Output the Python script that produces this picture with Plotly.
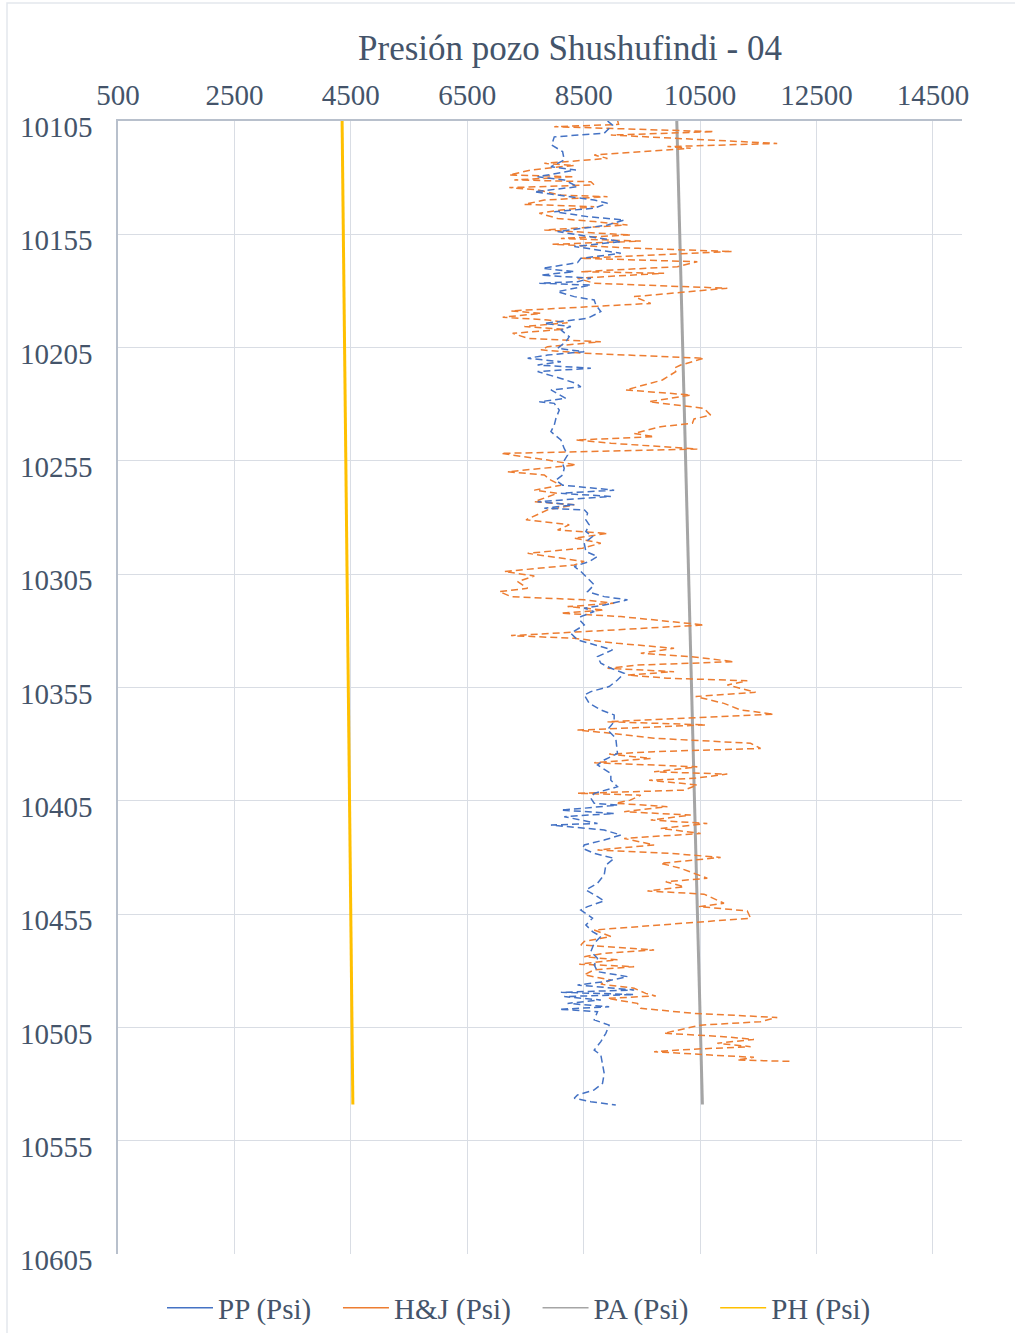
import plotly.graph_objects as go

# ---------------- data ----------------
pp_depth = [10105, 10106.8, 10110.4, 10112, 10115.6, 10118.5, 10122.2, 10125.2, 10126.6, 10129.6,
            10131, 10134, 10136.2, 10137.7, 10139.9, 10141.3, 10143.5, 10145, 10147.2, 10148.7,
            10150.9, 10153.8, 10156, 10158.2, 10160.4, 10163.4, 10165.6, 10167.5, 10170, 10171.5,
            10173, 10174.4, 10175.9, 10176.6, 10177.4, 10180.3, 10182.5, 10184, 10186.2, 10189.1,
            10192.1, 10193.5, 10194.3, 10195.7, 10197.2, 10200.2, 10202.4, 10205.3, 10206.8, 10208.3,
            10209.7, 10211.2, 10212.7, 10214.1, 10215.6, 10218.6, 10220.8, 10222.3, 10223.7, 10227.4,
            10228.9, 10229.6, 10232.6, 10236.2, 10239.2, 10242.1, 10245.8, 10249.5, 10252.4, 10256.1,
            10258.3, 10261.2, 10263.5, 10265.7, 10267.9, 10269.3, 10270.7, 10273, 10274.4, 10275.9,
            10276.6, 10278.1, 10281, 10283.2, 10286.2, 10288.4, 10291.3, 10295, 10297.2, 10299.4,
            10301.6, 10303.8, 10306.8, 10309.7, 10312.7, 10314.9, 10316.3, 10318.6, 10320, 10321.5,
            10323.7, 10325, 10327.4, 10331.1, 10334, 10336.2, 10338.4, 10341.4, 10344.3, 10346.5,
            10348.7, 10351.7, 10354.6, 10356.8, 10358.3, 10362, 10364.9, 10367.1, 10370.1, 10373.7,
            10377.4, 10384.1, 10387, 10389.2, 10392.9, 10395.9, 10398.8, 10401.7, 10403.9, 10406.1,
            10406.9, 10408.4, 10409.1, 10410.6, 10412, 10413.5, 10415, 10415.7, 10416.7, 10417.9,
            10420.1, 10422.3, 10424.5, 10426, 10428.2, 10430.4, 10433.4, 10437.7, 10441.4, 10444.3,
            10447.3, 10449.2, 10451.7, 10453.2, 10456.8, 10459.8, 10462.7, 10464.9, 10467.9, 10471.5,
            10474.5, 10477.4, 10480.4, 10482.6, 10484.8, 10486.3, 10488.5, 10489.5, 10490.5, 10491.4,
            10492.9, 10494.4, 10495.9, 10497, 10498.1, 10501.7, 10504, 10507.6, 10511.3, 10515,
            10517.2, 10520.9, 10525.3, 10529.7, 10532.6, 10534.8, 10536.3, 10537.8, 10539.2]
pp_psi = [8910, 8996, 8853, 7995, 7950, 8138, 8166, 7938, 8367, 7709,
          8166, 8395, 7652, 8109, 8681, 8910, 8681, 7995, 8567, 9196,
          8910, 8052, 8567, 9139, 8338, 9139, 8452, 8395, 7795, 8338,
          7766, 8624, 8395, 7738, 8624, 8052, 8338, 8681, 8710, 8795,
          8567, 8109, 7824, 8281, 8109, 8252, 8195, 8052, 8510, 7881,
          7538, 8109, 7709, 8624, 7709, 8109, 8367, 8452, 7938, 8195,
          7738, 7995, 8081, 8024, 7995, 7938, 8109, 8166, 8224, 8138,
          8166, 8138, 8024, 8138, 9024, 8109, 8967, 7709, 8338, 7824,
          8510, 8567, 8538, 8595, 8538, 8652, 8510, 8538, 8738, 8595,
          8338, 8452, 8567, 8681, 8567, 8853, 9253, 8853, 8510, 8681,
          8452, 8424, 8510, 8281, 8395, 8681, 8996, 8738, 8795, 8967,
          9196, 9081, 8938, 8624, 8510, 8595, 8795, 9024, 9024, 8910,
          9052, 9081, 8853, 8738, 8967, 8967, 9081, 8681, 8624, 8681,
          9081, 8452, 8109, 9024, 8166, 8452, 8738, 7938, 8395, 8853,
          9139, 8853, 8510, 8481, 8681, 9024, 8881, 8853, 8738, 8538,
          8738, 8853, 8567, 8452, 8652, 8538, 8652, 8795, 8681, 8624,
          8738, 8681, 8738, 9253, 8853, 8395, 9367, 8109, 9367, 8166,
          8795, 8224, 8938, 8081, 8738, 8681, 8938, 8881, 8795, 8681,
          8795, 8824, 8853, 8824, 8681, 8395, 8338, 8624, 9052]

hj_depth = [10104.6, 10106.5, 10107.5, 10109.7, 10111.2, 10114.9, 10116.3, 10117, 10120, 10121.5,
            10123.7, 10124.6, 10126.6, 10128.8, 10129.6, 10131, 10131.8, 10133.2, 10134.4, 10135.4,
            10137.7, 10138.4, 10139.9, 10141.8, 10142.8, 10144.3, 10145.7, 10148, 10149.4, 10150.9,
            10153.1, 10155.3, 10156.8, 10158, 10159.4, 10161.2, 10162.6, 10165.6, 10167.1, 10169.3,
            10171.5, 10172.2, 10174.4, 10176.6, 10178.8, 10182.5, 10185.5, 10188.8, 10189.9, 10191.6,
            10192.8, 10194, 10195.7, 10196.9, 10198.7, 10200.9, 10202.4, 10204.6, 10206, 10207.5,
            10209.7, 10212.7, 10214.1, 10215.6, 10219.3, 10223.7, 10225.9, 10228.9, 10231.8, 10234.8,
            10236.5, 10238.4, 10239.9, 10242.9, 10244.3, 10245.8, 10247.2, 10248.7, 10249.8, 10251.7,
            10254.6, 10256.8, 10259.8, 10261.2, 10263.5, 10265.7, 10267.9, 10269.3, 10273, 10274.4,
            10276.6, 10281, 10283.2, 10285.5, 10287, 10289.1, 10291.3, 10293.5, 10295.8, 10299.4,
            10300.9, 10303.8, 10305.8, 10308.3, 10311.2, 10312.7, 10314.9, 10316.3, 10317.8, 10319.3,
            10320.8, 10322.2, 10323.7, 10327.4, 10330.5, 10332.1, 10333.3, 10335.5, 10337.7, 10339.9,
            10341.4, 10343.6, 10345.1, 10346.5, 10348, 10349.5, 10350.9, 10352, 10353.9, 10357.1,
            10359, 10362, 10364.9, 10366.8, 10370.1, 10371.5, 10373.8, 10375.2, 10377.4, 10379.6,
            10381.9, 10383.3, 10384.4, 10386.3, 10388.2, 10390, 10392.2, 10393.2, 10395.1, 10395.9,
            10398, 10400.3, 10401.7, 10402.5, 10404.7, 10406.1, 10407.6, 10409.8, 10411.3, 10413.5,
            10415, 10417.2, 10419.4, 10421.6, 10424.5, 10426.7, 10428.2, 10430, 10432.6, 10434.8,
            10439.2, 10440.7, 10442.9, 10444.8, 10446.2, 10450.2, 10451.7, 10453.6, 10456.8, 10462,
            10464.9, 10467.1, 10468.6, 10470.8, 10472.3, 10473.8, 10475.2, 10477.1, 10478.2, 10479.6,
            10481.8, 10484.1, 10485.9, 10487.7, 10490, 10491.1, 10492.2, 10494.4, 10496.6, 10498.8,
            10500.6, 10502.5, 10504, 10507.6, 10509, 10510.3, 10512, 10513.5, 10514.6, 10515.7,
            10517.2, 10518.2, 10519.4, 10520]
hj_psi = [9081, 9100, 7995, 10739, 8967, 11825, 9939, 10339, 8681, 8910,
          7824, 8338, 7595, 7223, 8338, 7309, 8624, 8681, 7223, 7709,
          8109, 8910, 7824, 7481, 8681, 8109, 7738, 8052, 8681, 9253,
          7824, 9310, 8109, 9482, 7966, 9439, 11054, 8452, 10453, 10110,
          8452, 9882, 8395, 8681, 10968, 9367, 9653, 7252, 7767, 7109,
          7881, 8224, 7481, 8166, 7280, 7538, 8795, 7881, 7767, 8510,
          10568, 10168, 10053, 10082, 9853, 9224, 10339, 9624, 10568, 10682,
          10396, 10368, 9825, 9367, 9710, 8367, 8967, 9882, 10453, 7080,
          7881, 8367, 7195, 7824, 7938, 8109, 7652, 8052, 7652, 8338,
          7881, 7509, 8252, 8052, 8910, 8338, 8795, 8481, 7538, 8510,
          8338, 7138, 7652, 7366, 7538, 7052, 7252, 8510, 9024, 8224,
          8853, 8109, 9139, 10568, 8395, 7252, 8338, 9081, 10053, 9482,
          10339, 11082, 9424, 8910, 10053, 9253, 9939, 11311, 10968, 11454,
          10425, 10911, 11197, 11768, 8910, 10596, 8395, 8967, 9710, 11368,
          11540, 9710, 8938, 9653, 8681, 10453, 9710, 10968, 10396, 9624,
          10453, 10225, 8395, 9482, 9300, 9052, 9939, 9196, 10339, 9653,
          10624, 9825, 10510, 9196, 9710, 8738, 9996, 10854, 9825, 10168,
          10624, 9910, 10225, 9596, 10568, 10911, 10482, 11311, 11368, 8681,
          8967, 8510, 8452, 9710, 8853, 8510, 9081, 8424, 9367, 8681,
          8510, 8967, 8795, 9367, 9567, 9739, 8910, 9424, 9482, 10396,
          11825, 11540, 10510, 9882, 10854, 11425, 10796, 11368, 10396, 9710,
          10682, 11425, 11139, 12054]

pa_depth = [10105, 10539]
pa_psi = [10100, 10540]
ph_depth = [10105, 10539]
ph_psi = [4350, 4535]

series_names = ["PP (Psi)", "H&J (Psi)", "PA (Psi)", "PH (Psi)"]
series_colors = ["#4472C4", "#ED7D31", "#A5A5A5", "#FFC000"]

x_ticks = [500, 2500, 4500, 6500, 8500, 10500, 12500, 14500]
y_ticks = [10105, 10155, 10205, 10255, 10305, 10355, 10405, 10455, 10505, 10555, 10605]

title_text = "Presión pozo Shushufindi - 04"

# ---------------- figure ----------------
FONT = "Liberation Serif, Times New Roman, serif"
TXT = "#44546A"
FS = 29

fig = go.Figure()
fig.add_trace(go.Scatter(x=ph_psi, y=ph_depth, mode="lines", showlegend=False,
                         line=dict(color=series_colors[3], width=3)))
fig.add_trace(go.Scatter(x=pa_psi, y=pa_depth, mode="lines", showlegend=False,
                         line=dict(color=series_colors[2], width=3)))
fig.add_trace(go.Scatter(x=hj_psi, y=hj_depth, mode="lines", showlegend=False,
                         line=dict(color=series_colors[1], width=1.5, dash="7px,4px")))
fig.add_trace(go.Scatter(x=pp_psi, y=pp_depth, mode="lines", showlegend=False,
                         line=dict(color=series_colors[0], width=1.5, dash="7px,4px")))

# legend entries (solid samples as in the original legend)
PAD = "\u00a0" * 3
for name, col in zip(series_names, series_colors):
    fig.add_trace(go.Scatter(x=[None], y=[None], mode="lines", name=name + PAD,
                             line=dict(color=col, width=1.5)))

L, R, T, B = 118, 53, 121, 79
W, H = 1015, 1333
pw, ph = W - L - R, H - T - B


def px2paper_x(px):
    return (px - L) / pw


def px2paper_y(py):
    return (H - B - py) / ph


fig.add_shape(type="rect", xref="paper", yref="paper",
              x0=px2paper_x(7), x1=px2paper_x(1030), y0=px2paper_y(1345), y1=px2paper_y(3),
              line=dict(color="#E3E7ED", width=1.5), layer="below")

fig.update_layout(
    width=W, height=H,
    margin=dict(l=L, r=R, t=T, b=B, autoexpand=False),
    paper_bgcolor="white", plot_bgcolor="white",
    font=dict(family=FONT, color=TXT, size=FS),
    title=dict(text=title_text, x=570 / W, xref="container", xanchor="center",
               y=1 - 48 / H, yref="container", yanchor="middle",
               font=dict(family=FONT, size=35, color=TXT)),
    xaxis=dict(side="top", range=[500, 15000], tickvals=x_ticks, ticktext=[str(v) for v in x_ticks],
               showgrid=True, gridcolor="#D9DDE4", gridwidth=1,
               showline=True, linecolor="#B8C0CC", linewidth=1.5, mirror=False,
               zeroline=False, ticks="", tickfont=dict(size=FS, family=FONT, color=TXT),
               ticklabelstandoff=3),
    yaxis=dict(range=[10605, 10105], tickvals=y_ticks, ticktext=[str(v) for v in y_ticks],
               showgrid=True, gridcolor="#D9DDE4", gridwidth=1,
               showline=True, linecolor="#B8C0CC", linewidth=1.5,
               zeroline=False, ticks="", tickfont=dict(size=FS, family=FONT, color=TXT),
               ticklabelstandoff=18, ticklabelshift=-6),
    legend=dict(orientation="h", x=px2paper_x(162), xanchor="left",
                y=px2paper_y(1308), yanchor="middle", itemwidth=46,
                font=dict(size=FS, family=FONT, color=TXT), bgcolor="rgba(0,0,0,0)"),
)

fig.write_html("out.html", post_script="document.body.style.margin='0px';",
               config={"displayModeBar": False})
